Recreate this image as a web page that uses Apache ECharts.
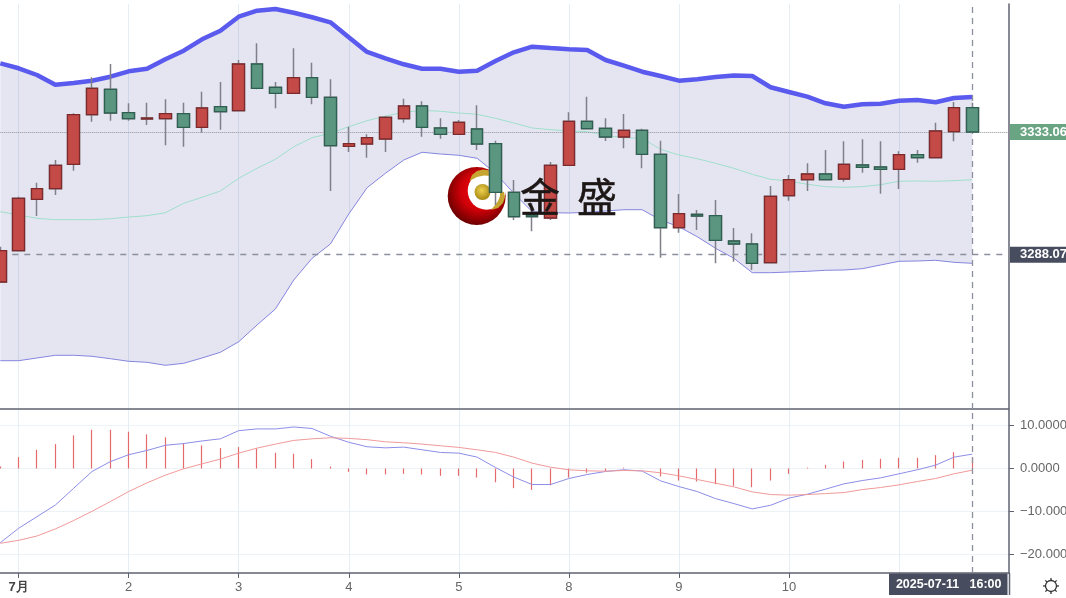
<!DOCTYPE html>
<html><head><meta charset="utf-8">
<style>html,body{margin:0;padding:0;background:#fff}#c{width:1066px;height:598px;filter:blur(0.4px)}</style>
<script src="https://cdn.jsdelivr.net/npm/echarts@6/dist/echarts.min.js"></script>
</head><body><div id="c"></div>
<script>
const categories=['','7月','','','','','','2','','','','','','3','','','','','','4','','','','','','5','','','','','','8','','','','','','9','','','','','','10','','','','','','11','','','','','',''];
const openPrices=[3278.07,3289.54,3308.39,3312.27,3321.22,3339.40,3348.71,3340.13,3337.82,3337.93,3339.77,3334.78,3342.33,3340.87,3357.99,3349.45,3347.25,3352.97,3345.78,3327.82,3328.66,3330.49,3337.93,3342.59,3334.53,3332.22,3334.16,3328.77,3310.95,3302.63,3301.53,3320.85,3336.98,3334.42,3331.23,3333.68,3324.88,3297.98,3302.89,3302.37,3293.10,3292.00,3285.14,3309.71,3315.57,3317.66,3315.83,3320.96,3320.23,3319.38,3324.74,3323.64,3333.17,3341.97];
const closePrices=[3289.54,3308.75,3312.27,3320.85,3339.40,3349.08,3340.02,3337.93,3338.19,3339.77,3334.78,3341.86,3340.50,3357.99,3349.08,3347.25,3352.97,3345.78,3328.04,3328.77,3330.97,3338.45,3342.59,3334.78,3332.22,3336.61,3328.66,3310.95,3302.01,3302.01,3320.85,3336.98,3334.27,3331.23,3333.68,3324.88,3297.98,3303.11,3302.26,3293.36,3292.00,3284.92,3309.49,3315.57,3317.66,3315.57,3321.22,3320.12,3319.38,3324.74,3323.64,3333.43,3341.97,3333.06];
const lowPrices=[3278.07,3289.54,3302.26,3309.96,3318.87,3336.83,3337.20,3337.20,3335.62,3328.18,3327.67,3332.80,3333.90,3340.87,3348.71,3341.75,3347.25,3343.21,3311.43,3325.73,3323.64,3325.73,3336.47,3331.34,3330.60,3332.22,3326.46,3306.30,3300.80,3296.66,3300.80,3320.59,3334.05,3329.76,3327.08,3319.75,3286.98,3296.14,3297.13,3284.92,3285.51,3282.47,3285.14,3307.87,3311.43,3315.57,3314.84,3318.14,3310.44,3312.16,3321.80,3323.64,3329.65,3333.06];
const highPrices=[3291.01,3309.34,3314.47,3322.79,3339.91,3353.11,3357.99,3343.58,3343.80,3345.05,3343.80,3347.83,3351.39,3359.45,3365.58,3351.39,3363.74,3358.46,3352.38,3335.00,3332.22,3338.92,3345.27,3344.31,3338.08,3337.46,3342.85,3329.87,3315.46,3307.03,3322.06,3340.28,3346.00,3338.08,3339.66,3334.27,3329.87,3310.33,3304.46,3308.13,3297.87,3295.92,3313.26,3317.29,3321.58,3326.46,3329.65,3330.38,3329.65,3325.98,3326.46,3336.47,3344.06,3343.80];
const bollUpper=[3358.24,3356.41,3353.95,3350.40,3351.02,3351.87,3353.33,3355.31,3356.26,3359.71,3362.86,3367.04,3370.20,3375.33,3377.53,3378.15,3376.79,3375.11,3373.27,3367.78,3362.39,3360.08,3357.88,3356.26,3356.26,3355.16,3355.53,3359.09,3362.28,3364.33,3363.85,3363.38,3363.12,3359.45,3357.36,3355.16,3353.59,3351.87,3352.38,3353.22,3353.77,3353.59,3349.45,3347.72,3346.00,3343.58,3342.33,3343.21,3343.43,3344.53,3344.79,3343.95,3345.52,3345.89];
const bollMid=[3303.84,3302.63,3301.42,3300.91,3300.91,3300.91,3301.27,3301.90,3302.37,3303.47,3306.92,3309.12,3311.43,3316.09,3319.75,3323.05,3327.67,3330.97,3332.58,3335.00,3337.20,3338.92,3340.28,3341.01,3340.65,3340.02,3339.55,3338.08,3336.36,3334.53,3333.90,3333.43,3333.17,3331.85,3330.97,3330.75,3326.72,3324.63,3323.27,3321.58,3319.75,3317.55,3315.72,3315.10,3313.89,3313.01,3312.79,3313.01,3313.74,3314.99,3315.10,3314.99,3315.21,3315.57];
const bollLower=[3249.22,3249.22,3250.21,3251.20,3251.20,3250.83,3249.95,3249.00,3248.63,3247.53,3248.26,3250.21,3252.30,3256.18,3262.30,3268.17,3278.80,3286.76,3292.00,3303.00,3312.64,3317.92,3322.79,3325.62,3324.99,3324.52,3323.42,3317.92,3310.59,3303.84,3303.47,3303.36,3303.62,3304.10,3304.57,3304.57,3300.80,3298.34,3294.68,3290.42,3286.76,3281.48,3281.48,3281.73,3281.99,3282.36,3282.47,3282.94,3284.30,3285.66,3285.77,3286.02,3285.29,3284.92];
const macdDif=[-17.25,-13.9,-11.2,-8.5,-4.6,-0.7,1.6,3.2,4.2,5.4,5.8,6.4,6.9,8.8,9.2,9.2,9.65,9.3,7.5,6.1,5.05,4.8,4.97,4.35,3.73,3.57,2.64,0.23,-2.0,-3.73,-3.73,-2.33,-1.4,-0.7,-0.3,-0.6,-2.87,-4.2,-5.36,-7.0,-8.16,-9.4,-8.55,-6.9,-5.98,-4.8,-3.57,-2.8,-2.18,-1.24,-0.3,0.78,2.64,3.34];
const macdDea=[-17.4,-16.7,-15.7,-14.06,-12.1,-9.95,-7.7,-5.36,-3.34,-1.55,-0.08,1.09,2.18,3.57,4.74,5.67,6.53,6.9,7.15,7.0,6.7,6.2,5.98,5.67,5.28,4.9,4.35,3.73,2.64,1.24,0.31,-0.31,-0.54,-0.62,-0.47,-0.54,-1.0,-1.7,-2.56,-3.42,-4.27,-5.44,-6.06,-6.2,-6.06,-5.83,-5.6,-4.9,-4.43,-3.8,-3.03,-2.33,-1.24,-0.39];
const macdHist=[0.47,2.64,4.35,5.67,7.7,9.0,9.0,8.55,7.93,7.23,5.83,5.36,4.74,4.97,4.66,3.65,3.42,2.18,0.47,-0.78,-1.4,-1.4,-1.24,-1.4,-1.7,-1.7,-2.1,-3.2,-4.58,-4.97,-3.9,-2.1,-1.0,-0.62,0.2,-0.05,-1.86,-2.8,-3.03,-3.65,-4.04,-4.35,-2.8,-1.24,0.2,0.85,1.63,2.0,2.25,2.49,2.49,3.1,3.8,2.49];
const lastPrice=3333.06, lastPriceLabel='3333.060';
const crossPrice=3288.075, crossPriceLabel='3288.075';
const crossIndex=53, crossTime='2025-07-11   16:00';
const macdTicks=[-20,-10,0,10];

const FONT='Arial, "Liberation Sans", sans-serif';
const chart=echarts.init(document.getElementById('c'),null,{renderer:'canvas'});
const isLabelled=(i,v)=>v!=='';
const gridLineStyle={color:'#e5edf5',width:1};
const dark='#5f6270';
const candles=openPrices.map((o,i)=>[o,closePrices[i],lowPrices[i],highPrices[i]]);
const bodies=openPrices.map((o,i)=>{const c=closePrices[i];return [o,c,Math.min(o,c),Math.max(o,c)];});
const histBars=macdHist.map(v=>[0,v,Math.min(0,v),Math.max(0,v)]);
const lineBase={type:'line',symbol:'none',silent:true,animation:false};

chart.setOption({
  animation:false,
  backgroundColor:'#fff',
  grid:[
    {left:0.3,width:1008.7,top:4,height:405,outerBoundsMode:'none'},
    {left:0.3,width:1008.7,top:410,height:163,outerBoundsMode:'none'}
  ],
  xAxis:[
    {type:'category',gridIndex:0,data:categories,boundaryGap:false,
     axisLine:{show:true,onZero:false,lineStyle:{color:dark,width:1.5}},axisTick:{show:false},axisLabel:{show:false},
     splitLine:{show:true,interval:isLabelled,lineStyle:gridLineStyle}},
    {type:'category',gridIndex:1,data:categories,boundaryGap:false,
     axisLine:{show:true,onZero:false,lineStyle:{color:dark,width:1.5}},
     axisTick:{show:true,interval:isLabelled,length:5,lineStyle:{color:dark}},
     axisLabel:{show:true,interval:0,margin:8,color:'#666',fontSize:13,fontFamily:FONT,
       formatter:v=>v==='7月'?'{b|7月}':v,
       rich:{b:{fontWeight:'bold',color:'#444',fontSize:13,fontFamily:FONT}}},
     splitLine:{show:true,interval:isLabelled,lineStyle:gridLineStyle}}
  ],
  yAxis:[
    {type:'value',gridIndex:0,position:'right',min:3231.51,max:3379.98,scale:true,
     axisLine:{show:true,lineStyle:{color:dark,width:1.5}},axisTick:{show:false},axisLabel:{show:false},splitLine:{show:false}},
    {type:'value',gridIndex:1,position:'right',min:-24.3,max:13.6,
     axisLine:{show:true,lineStyle:{color:dark,width:1.5}},
     axisTick:{show:true,length:5,customValues:macdTicks,lineStyle:{color:dark}},
     axisLabel:{show:true,margin:11,color:'#666',fontSize:13,fontFamily:FONT,customValues:macdTicks,
       formatter:v=>v.toFixed(4).replace('-','−')},
     splitLine:{show:true,lineStyle:{color:'#edf2f6',width:1}}}
  ],
  graphic:[
    {type:'circle',z:1,shape:{cx:476.7,cy:196,r:29},style:{fill:{type:'radial',x:0.55,y:0.42,r:0.58,colorStops:[{offset:0,color:'#f00010'},{offset:0.55,color:'#d00008'},{offset:1,color:'#6e0000'}]}},silent:true},
    {type:'circle',z:1,shape:{cx:486.7,cy:190.7,r:19},style:{fill:'#fff'},silent:true},
    {type:'polygon',z:1,shape:{points:[[469.5,181],[472,175],[477,171],[483,169.5],[490,170.5],[496,174],[498,177],[491,176],[484,175.5],[477,177]]},style:{fill:'#c7a531'},silent:true},
    {type:'polygon',z:1,shape:{points:[[491,210],[495,205],[498,201],[500,196],[500,191],[504,192],[505,197],[503,203],[498,208]]},style:{fill:'#c7a531'},silent:true},
    {type:'circle',z:1,shape:{cx:482.5,cy:192,r:8},style:{fill:{type:'radial',x:0.45,y:0.4,r:0.6,colorStops:[{offset:0,color:'#ecd252'},{offset:1,color:'#a8860f'}]}},silent:true},
    {type:'text',z:100,x:540,y:197,silent:true,style:{text:'金',font:'400 40px "Noto Sans CJK SC"',fill:'#1c1614',stroke:'#1c1614',lineWidth:0.5,textAlign:'center',textVerticalAlign:'middle'}},
    {type:'text',z:100,x:597,y:197,silent:true,style:{text:'盛',font:'400 40px "Noto Sans CJK SC"',fill:'#1c1614',stroke:'#1c1614',lineWidth:0.5,textAlign:'center',textVerticalAlign:'middle'}},
    {type:'rect',z:100,shape:{x:889,y:573.5,width:118.5,height:21.5},style:{fill:'#474d5e'},silent:true},
    {type:'text',z:101,x:948.7,y:584.5,silent:true,style:{text:crossTime,font:'bold 12.5px '+FONT,fill:'#fff',textAlign:'center',textVerticalAlign:'middle'}},
    {type:'line',z:100,shape:{x1:1009.5,y1:573,x2:1009.5,y2:595},style:{stroke:dark,lineWidth:1.5},silent:true},
    {type:'group',z:100,x:1051,y:586,silent:true,children:[
      {type:'circle',shape:{cx:0,cy:0,r:5.5},style:{fill:'none',stroke:'#333',lineWidth:1.3}},
      ...[0,45,90,135,180,225,270,315].map(a=>{const r=a*Math.PI/180;return {type:'line',shape:{x1:Math.cos(r)*5.5,y1:Math.sin(r)*5.5,x2:Math.cos(r)*8,y2:Math.sin(r)*8},style:{stroke:'#333',lineWidth:1.3}};})
    ]}
  ],
  series:[
    {...lineBase,name:'bandBase',xAxisIndex:0,yAxisIndex:0,data:bollLower,stack:'band',lineStyle:{opacity:0},z:2},
    {...lineBase,name:'bandFill',xAxisIndex:0,yAxisIndex:0,data:bollUpper.map((u,i)=>u-bollLower[i]),stack:'band',lineStyle:{opacity:0},areaStyle:{color:'rgb(82,82,168)',opacity:0.15},z:2},
    {...lineBase,name:'mid',xAxisIndex:0,yAxisIndex:0,data:bollMid,lineStyle:{color:'#9fdfca',width:1},z:3},
    {...lineBase,name:'lower',xAxisIndex:0,yAxisIndex:0,data:bollLower,lineStyle:{color:'#8585df',width:1},z:3},
    {...lineBase,name:'upper',xAxisIndex:0,yAxisIndex:0,data:bollUpper,lineStyle:{color:'#5a5aee',width:4.5},z:3},
    {type:'candlestick',name:'wicks',xAxisIndex:0,yAxisIndex:0,data:candles,barWidth:12,silent:true,animation:false,z:4,
     itemStyle:{color:'#c44a47',color0:'#5a9680',borderColor:'#808088',borderColor0:'#808088',borderWidth:1.5},
     markLine:{silent:true,symbol:'none',animation:false,precision:3,
       data:[
         {yAxis:lastPrice,lineStyle:{color:'#8f9398',type:'dotted',width:1},
          label:{show:true,position:'end',distance:1,formatter:lastPriceLabel,backgroundColor:'#6aa583',color:'#fff',fontFamily:FONT,fontWeight:'bold',fontSize:13,padding:[2,60,1,10],lineHeight:13,align:'left'}},
         {yAxis:crossPrice,lineStyle:{color:'#8c909c',type:[6,6],width:1.3},
          label:{show:true,position:'end',distance:1,formatter:crossPriceLabel,backgroundColor:'#474d5e',color:'#fff',fontFamily:FONT,fontWeight:'bold',fontSize:13,padding:[2,60,1,10],lineHeight:13,align:'left'}},
         {xAxis:crossIndex,label:{show:false},lineStyle:{color:'#8c909c',type:[6,5],width:1.3}}
       ]}},
    {type:'candlestick',name:'bodies',xAxisIndex:0,yAxisIndex:0,data:bodies,barWidth:12,silent:true,animation:false,z:5,
     itemStyle:{color:'#c44a47',color0:'#5a9680',borderColor:'#7c2a2c',borderColor0:'#2f5f50',borderWidth:1.3}},
    {type:'candlestick',name:'hist',xAxisIndex:1,yAxisIndex:1,data:histBars,barWidth:1,silent:true,animation:false,z:2,
     itemStyle:{color:'#e56a6c',color0:'#e56a6c',borderColor:'#e56a6c',borderColor0:'#e56a6c',borderWidth:1.2},
     markLine:{silent:true,symbol:'none',animation:false,label:{show:false},data:[{xAxis:crossIndex,lineStyle:{color:'#8c909c',type:[6,5],width:1.3}}]}},
    {...lineBase,name:'dif',xAxisIndex:1,yAxisIndex:1,data:macdDif,lineStyle:{color:'#8d8de8',width:1},z:3},
    {...lineBase,name:'dea',xAxisIndex:1,yAxisIndex:1,data:macdDea,lineStyle:{color:'#f09a9a',width:1},z:3}
  ]
});
</script></body></html>
